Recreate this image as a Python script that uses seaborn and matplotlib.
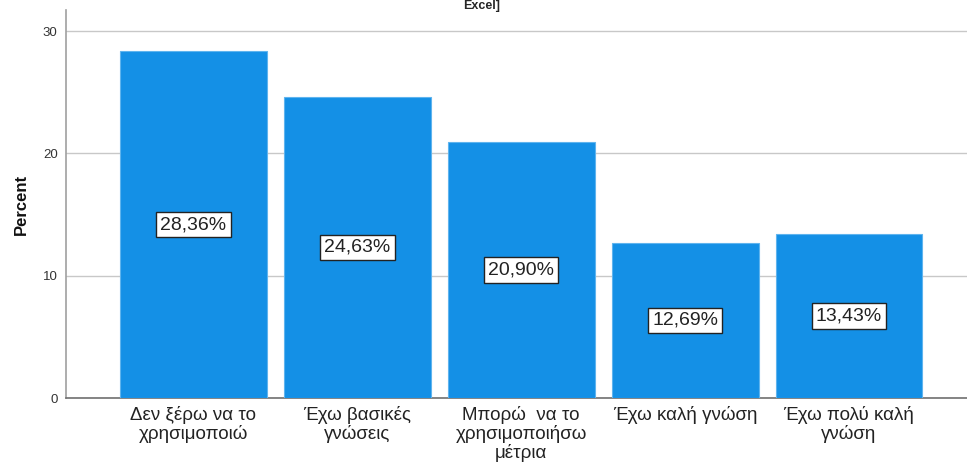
import matplotlib
matplotlib.use("Agg")
import matplotlib.pyplot as plt
import seaborn as sns
import pandas as pd

categories = [
    "Δεν ξέρω να το\nχρησιμοποιώ",
    "Έχω βασικές\nγνώσεις",
    "Μπορώ  να το\nχρησιμοποιήσω\nμέτρια",
    "Έχω καλή γνώση",
    "Έχω πολύ καλή\nγνώση",
]
percent = [28.36, 24.63, 20.90, 12.69, 13.43]
yticks = [0, 10, 20, 30]

df = pd.DataFrame({"category": categories, "percent": percent})

sns.set_style("white")
plt.rcParams["font.family"] = ["Liberation Sans", "DejaVu Sans"]

fig = plt.figure(figsize=(9.67, 4.65), dpi=100)
ax = fig.add_axes([66 / 967, 1 - 398 / 465, 1 - 66 / 967, (398 - 10) / 465])

sns.barplot(data=df, x="category", y="percent", color="#1490e6", saturation=1,
            width=0.896, edgecolor="#5fb4ee", linewidth=0.8, ax=ax, zorder=3)

for i, v in enumerate(percent):
    ax.text(i, v / 2, f"{v:.2f}%".replace(".", ","), ha="center", va="center",
            fontsize=14, color="#222222", zorder=5,
            bbox=dict(boxstyle="square,pad=0.22", fc="white", ec="#222222", lw=1.0))

ax.set_xlim(-0.777, 4.72)
ax.set_ylim(0, 31.72)
ax.set_yticks(yticks)
ax.set_yticklabels([str(t) for t in yticks], fontsize=9.5, color="#333333")
ax.yaxis.grid(True, color="#c8c8c8", lw=1, zorder=0)
ax.tick_params(axis="y", length=4, width=1, color="#aaaaaa", pad=2)
ax.tick_params(axis="x", length=0, labelsize=13.5, pad=6, labelcolor="#222222")
for lbl in ax.get_xticklabels():
    lbl.set_verticalalignment("top")
    lbl.set_linespacing(1.05)
ax.set_xlabel("")
ax.set_ylabel("Percent", fontsize=12, fontweight="bold", color="#111111", labelpad=10)

for side in ["top", "right"]:
    ax.spines[side].set_visible(False)
ax.spines["left"].set_color("#a0a0a0")
ax.spines["left"].set_linewidth(1.2)
ax.spines["bottom"].set_color("#707070")
ax.spines["bottom"].set_linewidth(1.2)

fig.text(482 / 967, 1.0, "Excel]", ha="center", va="top",
         fontsize=9, fontweight="bold")

fig.savefig("out.png", dpi=100)
